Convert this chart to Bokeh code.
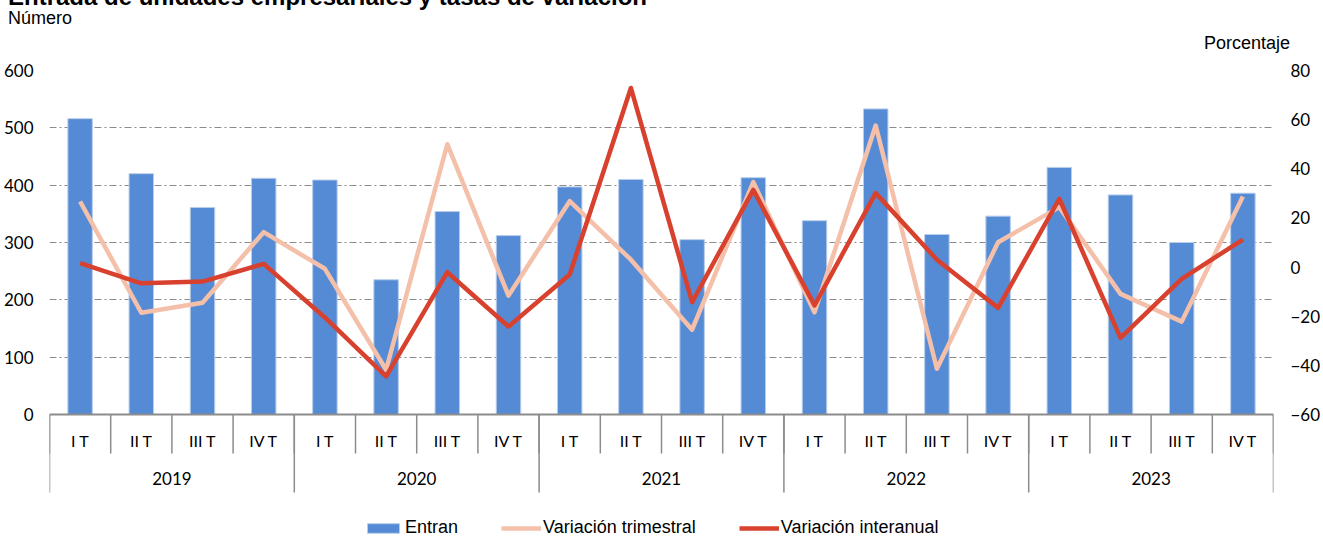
from bokeh.plotting import figure
from bokeh.models import Range1d, LinearAxis, FixedTicker, Legend, LegendItem, Div
from bokeh.layouts import column
from bokeh.embed import file_html
from bokeh.resources import INLINE
from bokeh.core.properties import value

# ---------------- data ----------------
years = ["2019", "2020", "2021", "2022", "2023"]
quarters = ["I T", "II T", "III T", "IV T"]
entran = [516, 420, 361, 412, 409, 235, 354, 312, 397, 410, 305, 413,
          338, 533, 314, 346, 431, 383, 300, 386]
var_trimestral = [26.7, -18.6, -14.5, 14.2, -0.7, -41.8, 50.0, -11.6, 26.8, 3.0,
                  -25.5, 34.6, -18.4, 57.6, -41.4, 10.1, 24.4, -10.9, -22.2, 28.7]
var_interanual = [1.6, -6.6, -5.9, 1.3, -20.5, -44.5, -2.1, -24.2, -3.0, 72.9,
                  -14.3, 31.4, -15.6, 30.1, 3.0, -16.6, 27.8, -28.8, -4.8, 11.2]
left_ticks = [0, 100, 200, 300, 400, 500, 600]
right_ticks = [-60, -40, -20, 0, 20, 40, 60, 80]
title_text = "Entrada de unidades empresariales y tasas de variación"
left_unit = "Número"
right_unit = "Porcentaje"

# ---------------- layout constants ----------------
W, H = 1323, 538
FL, FR, FT = 48, 48, 70
ZERO_PX = 414
n = len(entran)
ppu = (ZERO_PX - FT) / (left_ticks[-1] - left_ticks[0])
y_min = -(H - ZERO_PX) / ppu
pct_span = right_ticks[-1] - right_ticks[0]
pct_ppu = (ZERO_PX - FT) / pct_span
pct_min = right_ticks[0] - (H - ZERO_PX) / pct_ppu


def ydat(py):
    return (ZERO_PX - py) / ppu


xs = [i + 0.5 for i in range(n)]
q_labels = [quarters[i % 4] for i in range(n)]
year_x = [4 * k + 2 for k in range(len(years))]

GRID = "#8c8c8c"
TICKFONT = value("Lato")

p = figure(width=W, height=H, output_backend="svg", toolbar_location=None, tools="",
           x_range=Range1d(0, n), y_range=Range1d(y_min, left_ticks[-1]),
           x_axis_location=None, title_location=None,
           min_border_left=FL, min_border_right=FR, min_border_top=FT, min_border_bottom=0,
           outline_line_color=None, background_fill_color="white")
p.margin = (0, 0, 0, 0)


def style_axis(ax, standoff):
    ax.axis_line_color = None
    ax.major_tick_line_color = None
    ax.minor_tick_line_color = None
    ax.major_tick_out = 0
    ax.major_tick_in = 0
    ax.minor_tick_out = 0
    ax.minor_tick_in = 0
    ax.major_label_standoff = standoff
    ax.major_label_text_font = "Lato"
    ax.major_label_text_font_size = "17px"
    ax.major_label_text_color = "#000000"


# left axis
ya = p.yaxis[0]
ya.ticker = FixedTicker(ticks=left_ticks)
style_axis(ya, 16)

# right axis
p.extra_y_ranges = {"pct": Range1d(pct_min, right_ticks[-1])}
ra = LinearAxis(y_range_name="pct", ticker=FixedTicker(ticks=right_ticks))
style_axis(ra, 17)
p.add_layout(ra, "right")

# grid
p.xgrid.visible = False
p.ygrid.ticker = FixedTicker(ticks=left_ticks[1:])
p.ygrid.grid_line_color = GRID
p.ygrid.grid_line_dash = "7 3 2 3"
p.ygrid.grid_line_width = 1

# bars
bars = p.vbar(x=xs, top=entran, bottom=0, width=0.4,
              fill_color="#558bd4", line_color="#b9cdeb", line_width=1)

# category table (two-level axis)
p.segment(x0=[0], y0=[0], x1=[n], y1=[0], line_color=GRID, line_width=2)
p.segment(x0=list(range(n + 1)), y0=[0] * (n + 1), x1=list(range(n + 1)),
          y1=[ydat(453)] * (n + 1), line_color=GRID, line_width=1.5)
yb = list(range(0, n + 1, 4))
p.segment(x0=yb, y0=[0] * len(yb), x1=yb, y1=[ydat(492)] * len(yb),
          line_color=GRID, line_width=1.5)
p.text(x=xs, y=[ydat(440)] * n, text=q_labels, text_align="center", text_baseline="middle",
       text_font=TICKFONT, text_font_size="16px", text_color="#000000")
p.text(x=year_x, y=[ydat(478)] * len(years), text=years, text_align="center",
       text_baseline="middle", text_font=TICKFONT, text_font_size="17px", text_color="#000000")

# lines
l1 = p.line(xs, var_trimestral, y_range_name="pct", line_color="#f4c0aa", line_width=4.5,
            line_join="round")
l2 = p.line(xs, var_interanual, y_range_name="pct", line_color="#d9412f", line_width=4.5,
            line_join="round")

# legend
legend = Legend(items=[LegendItem(label="Entran", renderers=[bars]),
                       LegendItem(label="Variación trimestral", renderers=[l1]),
                       LegendItem(label="Variación interanual", renderers=[l2])],
                orientation="horizontal", location=(366 - FL - 4, 0),
                glyph_width=40, glyph_height=12, label_standoff=2, spacing=43,
                padding=0, margin=0, border_line_color=None, background_fill_alpha=0,
                label_text_font="Liberation Sans", label_text_font_size="18px",
                label_height=16, label_text_color="#000000")
p.add_layout(legend)

# header texts, overlaid on the figure
html = (
    f'<div style="position:relative;width:{W}px;height:{H}px;pointer-events:none;'
    f'font-family:\'Liberation Sans\',Arial,sans-serif;color:#000;">'
    f'<span style="position:absolute;left:8px;top:-15px;font-size:24px;font-weight:bold;'
    f'line-height:1;white-space:nowrap;">{title_text}</span>'
    f'<span style="position:absolute;left:8px;top:9px;font-size:18px;line-height:1;'
    f'white-space:nowrap;">{left_unit}</span>'
    f'<span style="position:absolute;right:{W - 1290}px;top:34px;font-size:18px;line-height:1;'
    f'white-space:nowrap;">{right_unit}</span>'
    f'</div>'
)
div = Div(text=html, width=W, height=H, margin=(-H, 0, 0, 0))

layout = column(p, div, spacing=0)
open("out.html", "w").write(file_html(layout, INLINE))
